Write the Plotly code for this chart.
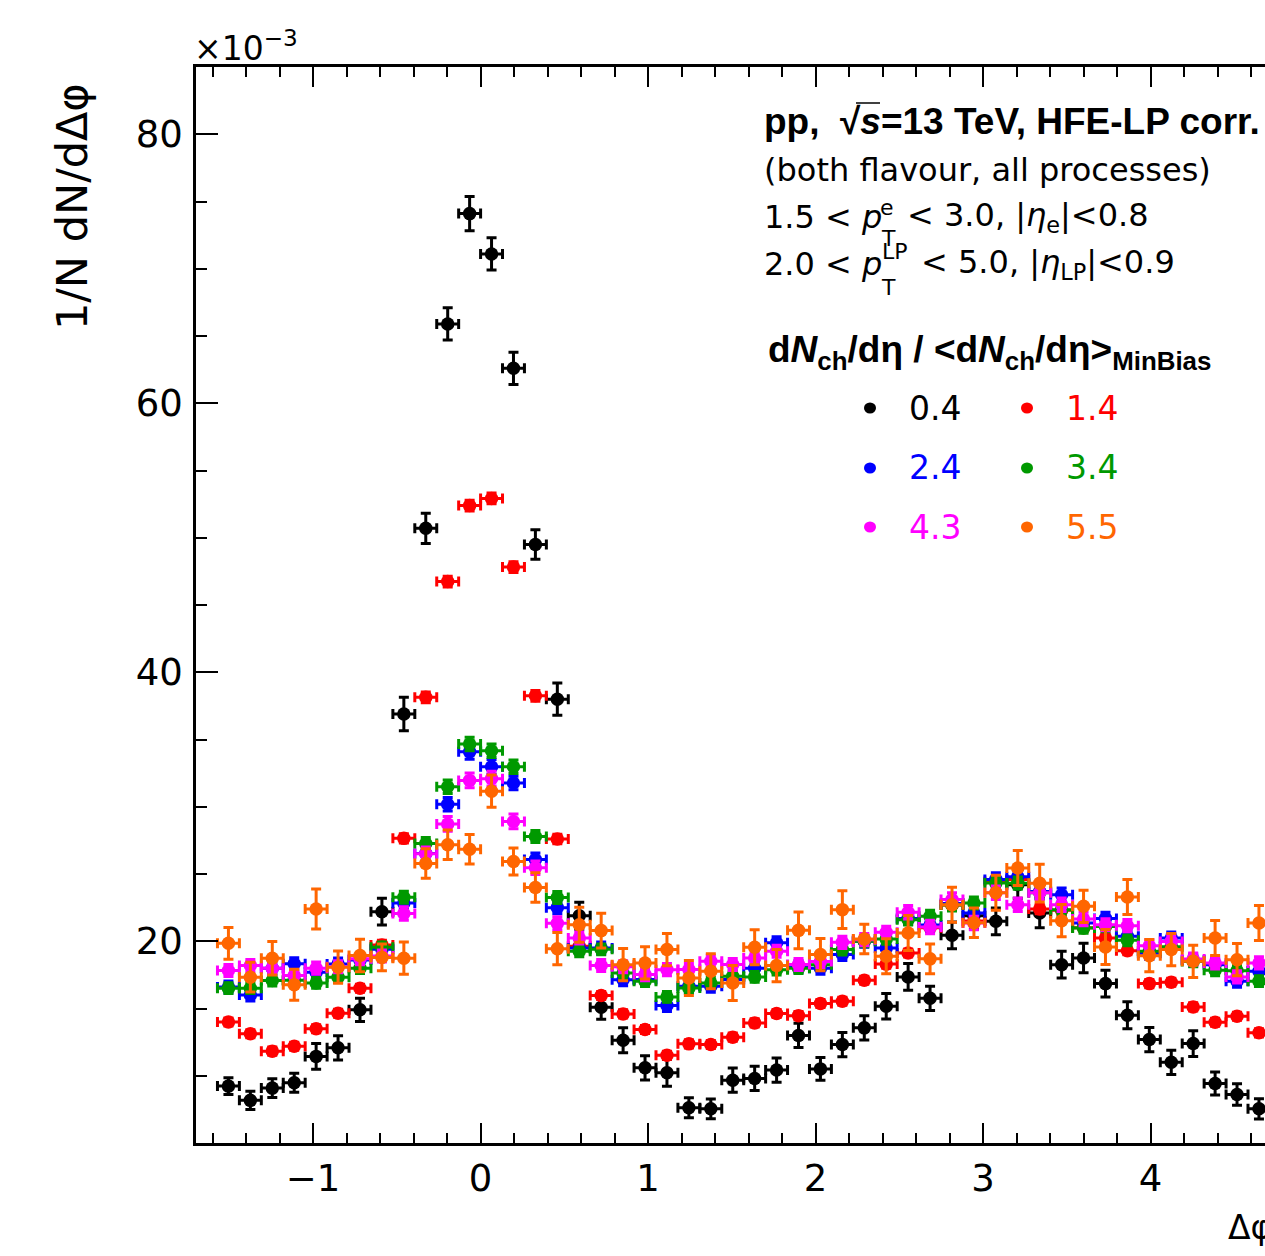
import numpy as np
import plotly.graph_objects as go

# ---- binning: 48 bins in delta-phi over [-pi/2, 3pi/2] ----
edges = np.linspace(-np.pi / 2, 3 * np.pi / 2, 49)
dphi = 0.5 * (edges[:-1] + edges[1:])
half_bin = 0.5 * (edges[1:] - edges[:-1])

# multiplicity classes dNch/deta / <dNch/deta>_MinBias
classes = ["0.4", "1.4", "2.4", "3.4", "4.3", "5.5"]
colors = ["#000000", "#ff0000", "#0000ff", "#009900", "#ff00ff", "#ff6600"]

# 1/N dN/dDphi values (x 10^-3)
y_04 = [9.23, 8.17, 9.08, 9.48, 11.44, 12.08, 14.9, 22.2, 36.9, 50.7, 65.9, 74.1,
        71.1, 62.6, 49.5, 38.0, 21.9, 15.1, 12.64, 10.59, 10.22, 7.62, 7.54, 9.67,
        9.8, 10.42, 13.0, 10.51, 12.32, 13.56, 15.17, 17.35, 15.76, 20.44, 21.9, 21.48,
        24.2, 22.1, 18.26, 18.76, 16.85, 14.5, 12.69, 11.0, 12.39, 9.42, 8.6, 7.54]
y_14 = [13.99, 13.12, 11.83, 12.2, 13.49, 14.65, 16.51, 19.73, 27.65, 38.14, 46.74, 52.39,
        52.92, 47.82, 38.25, 27.6, 19.62, 15.96, 14.6, 13.44, 11.53, 12.37, 12.32, 12.87,
        13.93, 14.63, 14.47, 15.37, 15.54, 17.1, 18.3, 19.13, 21.0, 22.7, 21.5, 24.45,
        24.6, 22.4, 22.3, 21.0, 20.24, 19.3, 16.85, 16.95, 15.12, 13.98, 14.42, 13.19]
y_24 = [16.6, 16.01, 18.0, 18.32, 17.7, 18.3, 18.6, 19.4, 22.85, 26.52, 30.18, 34.08,
        32.97, 31.77, 26.07, 22.5, 19.5, 19.5, 17.14, 17.15, 15.22, 16.66, 16.66, 17.15,
        18.0, 19.88, 18.1, 18.0, 19.01, 20.0, 19.5, 21.7, 21.2, 22.8, 22.1, 24.6,
        24.8, 23.7, 23.46, 21.36, 21.7, 20.37, 19.1, 20.24, 18.6, 18.26, 17.03, 17.77]
y_34 = [16.51, 16.51, 17.08, 17.1, 16.9, 17.33, 18.0, 19.55, 23.27, 27.26, 31.48, 34.66,
        34.16, 32.97, 27.79, 23.25, 19.25, 19.4, 17.64, 17.03, 15.86, 16.53, 16.9, 17.4,
        17.35, 17.89, 18.0, 18.26, 19.38, 20.0, 20.17, 21.6, 21.85, 22.7, 22.84, 24.33,
        24.32, 23.6, 22.35, 20.99, 21.1, 20.07, 19.25, 19.6, 18.5, 17.84, 17.8, 17.03]
y_43 = [17.82, 18.19, 18.0, 17.45, 18.0, 18.1, 18.7, 18.9, 22.06, 26.5, 28.72, 31.96,
        32.09, 28.91, 25.46, 21.33, 20.24, 18.2, 18.1, 17.52, 17.89, 17.9, 18.51, 18.27,
        18.76, 19.26, 18.27, 18.5, 19.92, 20.12, 20.67, 22.15, 21.06, 23.1, 21.36, 23.6,
        22.71, 23.6, 22.72, 21.66, 21.23, 21.16, 19.67, 19.99, 18.68, 18.39, 17.35, 18.39]
y_55 = [19.85, 17.33, 18.74, 16.76, 22.4, 18.07, 18.94, 18.8, 18.74, 25.78, 27.18, 26.84,
        31.16, 25.93, 24.0, 19.45, 21.23, 20.79, 18.26, 18.39, 19.38, 17.27, 17.77, 16.9,
        19.55, 18.19, 20.81, 19.01, 22.35, 20.17, 18.88, 20.62, 18.69, 22.71, 21.38, 23.6,
        25.44, 24.32, 21.53, 22.6, 19.58, 23.29, 18.93, 19.38, 18.51, 20.24, 18.63, 21.36]

# statistical uncertainties (x 10^-3)
e_04 = [0.62, 0.68, 0.7, 0.7, 0.95, 0.9, 0.87, 1.0, 1.25, 1.13, 1.2, 1.28,
        1.2, 1.2, 1.1, 1.2, 1.0, 0.9, 0.93, 0.9, 1.0, 0.74, 0.74, 0.9,
        0.9, 0.9, 0.9, 0.85, 0.9, 0.9, 0.95, 1.0, 0.9, 1.0, 1.0, 1.0,
        1.0, 1.1, 1.0, 1.1, 1.0, 1.0, 0.9, 0.9, 0.95, 0.85, 0.8, 0.75]
e_14 = [0.3, 0.3, 0.3, 0.3, 0.3, 0.3, 0.3, 0.35, 0.35, 0.4, 0.4, 0.4,
        0.4, 0.4, 0.4, 0.35, 0.3, 0.3, 0.3, 0.3, 0.3, 0.3, 0.3, 0.3,
        0.3, 0.3, 0.3, 0.3, 0.3, 0.3, 0.3, 0.3, 0.3, 0.35, 0.35, 0.35,
        0.35, 0.35, 0.35, 0.3, 0.3, 0.3, 0.3, 0.3, 0.3, 0.3, 0.3, 0.3]
e_24 = [0.45, 0.45, 0.45, 0.45, 0.45, 0.45, 0.45, 0.45, 0.45, 0.5, 0.5, 0.55,
        0.55, 0.5, 0.5, 0.45, 0.45, 0.45, 0.45, 0.45, 0.45, 0.45, 0.45, 0.45,
        0.45, 0.45, 0.45, 0.45, 0.45, 0.45, 0.45, 0.45, 0.45, 0.5, 0.5, 0.5,
        0.5, 0.5, 0.5, 0.45, 0.45, 0.45, 0.45, 0.45, 0.45, 0.45, 0.45, 0.45]
e_34 = [0.4, 0.4, 0.4, 0.4, 0.4, 0.4, 0.4, 0.4, 0.45, 0.45, 0.5, 0.5,
        0.5, 0.5, 0.45, 0.45, 0.4, 0.4, 0.4, 0.4, 0.4, 0.4, 0.4, 0.4,
        0.4, 0.4, 0.4, 0.4, 0.4, 0.4, 0.4, 0.4, 0.45, 0.45, 0.45, 0.45,
        0.45, 0.45, 0.45, 0.4, 0.4, 0.4, 0.4, 0.4, 0.4, 0.4, 0.4, 0.4]
e_43 = [0.45, 0.45, 0.45, 0.45, 0.45, 0.45, 0.45, 0.45, 0.5, 0.5, 0.55, 0.55,
        0.55, 0.55, 0.5, 0.5, 0.45, 0.45, 0.45, 0.45, 0.45, 0.45, 0.45, 0.45,
        0.45, 0.45, 0.45, 0.45, 0.45, 0.45, 0.45, 0.5, 0.5, 0.5, 0.5, 0.5,
        0.5, 0.5, 0.5, 0.5, 0.45, 0.45, 0.45, 0.45, 0.45, 0.45, 0.45, 0.45]
e_55 = [1.18, 1.1, 1.24, 1.15, 1.49, 1.2, 1.2, 1.0, 1.2, 1.1, 1.1, 1.1,
        1.2, 1.0, 1.1, 1.2, 1.3, 1.3, 1.2, 1.2, 1.2, 1.3, 1.3, 1.3,
        1.3, 1.2, 1.36, 1.2, 1.4, 1.1, 1.3, 1.3, 1.1, 1.3, 1.1, 1.3,
        1.3, 1.4, 1.2, 1.2, 1.3, 1.3, 1.2, 1.2, 1.2, 1.3, 1.2, 1.3]

values = [y_04, y_14, y_24, y_34, y_43, y_55]
errors = [e_04, e_14, e_24, e_34, e_43, e_55]

W, H = 1265, 1256
L, R, T, B = 196, 1265, 67, 1143
FONT = "DejaVu Sans"
BOLD_FONT = "Liberation Sans"


def fx(px):
    return (px - L) / (R - L)


def fy(py):
    return (B - py) / (B - T)


fig = go.Figure()
for name, col, yv, ev in zip(classes, colors, values, errors):
    fig.add_trace(go.Scatter(
        x=dphi, y=yv, mode="markers", name=name, showlegend=False,
        marker=dict(symbol="circle", size=13.5, color=col, line=dict(width=0)),
        error_x=dict(type="data", array=half_bin, color=col, thickness=3, width=5),
        error_y=dict(type="data", array=ev, color=col, thickness=3, width=5),
    ))

annotations = []


def text(px, py, s, size, color="black", anchor="left", family=FONT):
    annotations.append(dict(
        x=fx(px), y=fy(py), xref="paper", yref="paper", text=s, showarrow=False,
        xanchor=anchor, yanchor="middle",
        font=dict(family=family, size=size, color=color),
    ))


# header lines
text(762, 122, "<b>pp,\u00a0\u00a0√<i>s</i>=13 TeV, HFE-LP corr.</b>", 37, family=BOLD_FONT)
text(762, 170, "(both flavour, all processes)", 32)
text(762, 217, "1.5 &lt; <i>p</i>", 32)
text(887, 208, "e", 22, anchor="center")
text(888, 239, "T", 22, anchor="center")
text(905, 217, "&lt; 3.0, |<i>η</i><sub>e</sub>|&lt;0.8", 32)
text(762, 264, "2.0 &lt; <i>p</i>", 32)
text(895, 252, "LP", 22, anchor="center")
text(888, 287, "T", 22, anchor="center")
text(919, 264, "&lt; 5.0, |<i>η</i><sub>LP</sub>|&lt;0.9", 32)
text(766, 352,
     "<b>d<i>N</i><sub>ch</sub>/dη / &lt;d<i>N</i><sub>ch</sub>/dη&gt;<sub>MinBias</sub></b>", 37,
     family=BOLD_FONT)

# legend: two columns, three rows
shapes = []
leg_x = [870, 1027]
leg_y = [408, 468, 527]
for k, (name, col) in enumerate(zip(classes, colors)):
    cx, cy = leg_x[k % 2], leg_y[k // 2]
    shapes.append(dict(
        type="circle", xref="paper", yref="paper", xsizemode="pixel", ysizemode="pixel",
        xanchor=fx(cx), yanchor=fy(cy), x0=-6, x1=6, y0=-5.5, y1=5.5,
        fillcolor=col, line=dict(width=0),
    ))
    text(cx + 37, cy, name, 33, color=col)

# overline of the square root
shapes.append(dict(type="line", xref="paper", yref="paper",
                   x0=fx(856), x1=fx(880), y0=fy(103), y1=fy(103),
                   line=dict(color="black", width=1.5)))

# exponent of the y axis and axis titles
text(192, 46, "×10<sup>−3</sup>", 33)
annotations.append(dict(
    x=fx(72), y=fy(207), xref="paper", yref="paper", text="1/N dN/dΔφ",
    showarrow=False, textangle=-90, xanchor="center", yanchor="middle",
    font=dict(family=FONT, size=43, color="black"),
))
text(1226, 1227, "Δφ (rad)", 33)

fig.update_layout(
    width=W, height=H,
    margin=dict(l=L, r=W - R, t=T, b=H - B, pad=0),
    paper_bgcolor="white", plot_bgcolor="white",
    showlegend=False,
    annotations=annotations, shapes=shapes,
    font=dict(family=FONT, color="black"),
)
fig.update_xaxes(
    range=[-1.699, 4.683], showgrid=False, zeroline=False,
    showline=True, linecolor="black", linewidth=2.5, mirror="ticks",
    ticks="inside", ticklen=20, tickwidth=1.6, tickcolor="black",
    tick0=0, dtick=1, tickfont=dict(family=FONT, size=37, color="black"),
    ticklabelstandoff=1,
    minor=dict(dtick=0.2, ticks="inside", ticklen=10, tickwidth=1.6, tickcolor="black"),
)
fig.update_yaxes(
    range=[5, 85], showgrid=False, zeroline=False,
    showline=True, linecolor="black", linewidth=2.5, mirror=False,
    ticks="inside", ticklen=22, tickwidth=1.6, tickcolor="black",
    tick0=0, dtick=20, tickfont=dict(family=FONT, size=37, color="black"),
    ticklabelstandoff=3,
    minor=dict(dtick=5, ticks="inside", ticklen=11, tickwidth=1.6, tickcolor="black"),
)

fig.write_html("out.html")
